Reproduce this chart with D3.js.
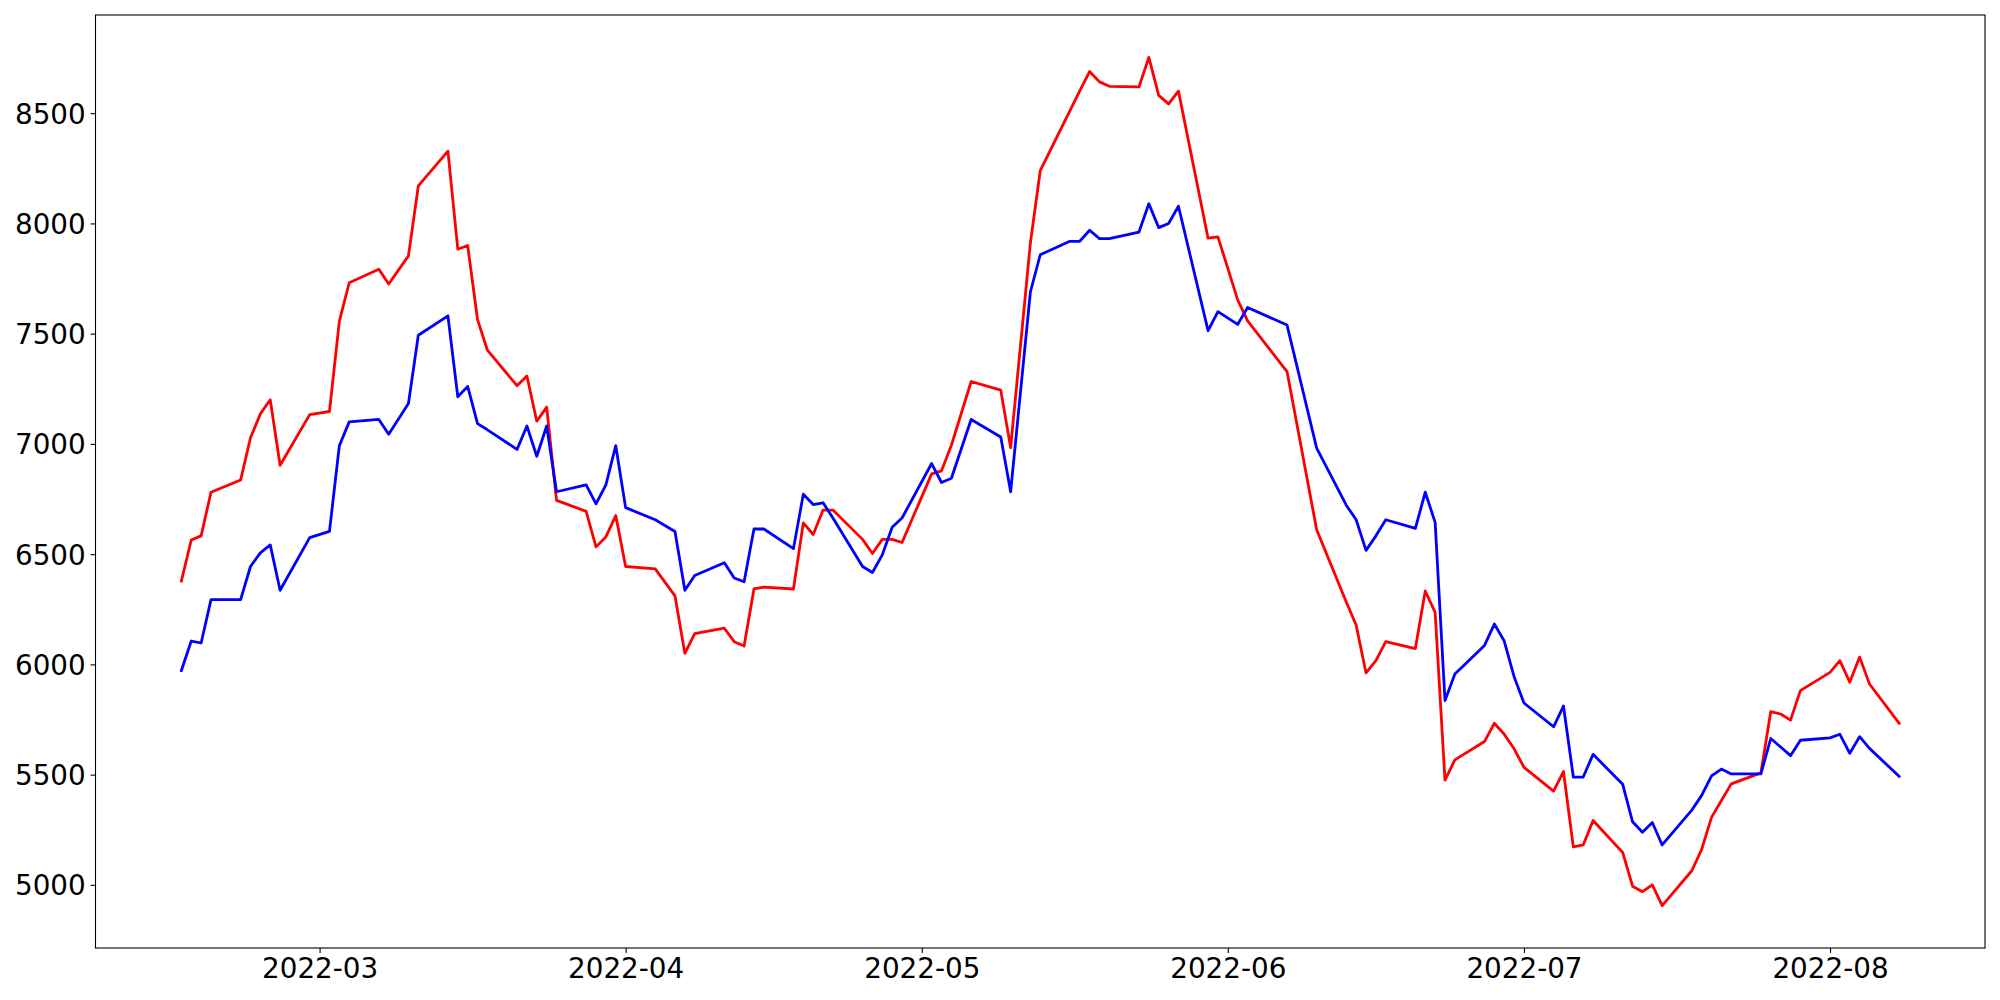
<!DOCTYPE html>
<html>
<head>
<meta charset="utf-8">
<script src="https://cdnjs.cloudflare.com/ajax/libs/d3/7.8.5/d3.min.js"></script>
<style>
  html, body { margin: 0; padding: 0; background: #fff; overflow: hidden; }
  svg { display: block; }
  text { font-family: "DejaVu Sans", sans-serif; }
</style>
</head>
<body>
<div id="chart"></div>
<script>
// Data

// Trading days shown on the x axis
const dates = [
  "2022-02-15", "2022-02-16", "2022-02-17", "2022-02-18", "2022-02-21", "2022-02-22", "2022-02-23", "2022-02-24", "2022-02-25", "2022-02-28",
  "2022-03-02", "2022-03-03", "2022-03-04", "2022-03-07", "2022-03-08", "2022-03-10", "2022-03-11", "2022-03-14", "2022-03-15", "2022-03-16",
  "2022-03-17", "2022-03-18", "2022-03-21", "2022-03-22", "2022-03-23", "2022-03-24", "2022-03-25", "2022-03-28", "2022-03-29", "2022-03-30",
  "2022-03-31", "2022-04-01", "2022-04-04", "2022-04-06", "2022-04-07", "2022-04-08", "2022-04-11", "2022-04-12", "2022-04-13", "2022-04-14",
  "2022-04-15", "2022-04-18", "2022-04-19", "2022-04-20", "2022-04-21", "2022-04-22", "2022-04-25", "2022-04-26", "2022-04-27", "2022-04-28",
  "2022-04-29", "2022-05-02", "2022-05-03", "2022-05-04", "2022-05-06", "2022-05-09", "2022-05-10", "2022-05-12", "2022-05-13", "2022-05-16",
  "2022-05-17", "2022-05-18", "2022-05-19", "2022-05-20", "2022-05-23", "2022-05-24", "2022-05-25", "2022-05-26", "2022-05-27", "2022-05-30",
  "2022-05-31", "2022-06-02", "2022-06-03", "2022-06-07", "2022-06-10", "2022-06-13", "2022-06-14", "2022-06-15", "2022-06-16", "2022-06-17",
  "2022-06-20", "2022-06-21", "2022-06-22", "2022-06-23", "2022-06-24", "2022-06-27", "2022-06-28", "2022-06-29", "2022-06-30", "2022-07-01",
  "2022-07-04", "2022-07-05", "2022-07-06", "2022-07-07", "2022-07-08", "2022-07-11", "2022-07-12", "2022-07-13", "2022-07-14", "2022-07-15",
  "2022-07-18", "2022-07-19", "2022-07-20", "2022-07-21", "2022-07-22", "2022-07-25", "2022-07-26", "2022-07-27", "2022-07-28", "2022-07-29",
  "2022-08-01", "2022-08-02", "2022-08-03", "2022-08-04", "2022-08-05", "2022-08-08"
];

// Red series
const redValues = [
  6378, 6564, 6583, 6781, 6836, 7028, 7136, 7200, 6903, 7133,
  7147, 7556, 7731, 7792, 7725, 7853, 8170, 8328, 7883, 7900,
  7564, 7425, 7264, 7308, 7103, 7167, 6744, 6694, 6533, 6578,
  6675, 6444, 6433, 6311, 6050, 6139, 6164, 6103, 6083, 6342,
  6350, 6342, 6642, 6589, 6700, 6700, 6567, 6503, 6567, 6567,
  6553, 6864, 6878, 6994, 7283, 7244, 6983, 7911, 8239, 8511,
  8601, 8689, 8642, 8622, 8619, 8753, 8581, 8542, 8600, 7933,
  7939, 7653, 7558, 7328, 6611, 6283, 6178, 5961, 6017, 6103,
  6072, 6333, 6236, 5475, 5567, 5650, 5733, 5683, 5617, 5533,
  5425, 5514, 5172, 5181, 5292, 5147, 4994, 4969, 5000, 4906,
  5064, 5161, 5306, 5383, 5458, 5508, 5786, 5775, 5747, 5881,
  5964, 6017, 5919, 6033, 5911, 5733
];

// Blue series
const blueValues = [
  5972, 6106, 6097, 6294, 6294, 6444, 6506, 6542, 6336, 6575,
  6603, 6992, 7100, 7111, 7044, 7183, 7493, 7581, 7214, 7261,
  7092, 7064, 6975, 7081, 6944, 7081, 6783, 6814, 6728, 6814,
  6992, 6711, 6656, 6603, 6336, 6403, 6461, 6392, 6375, 6614,
  6614, 6525, 6772, 6725, 6733, 6664, 6444, 6417, 6497, 6622,
  6664, 6911, 6825, 6844, 7111, 7031, 6783, 7689, 7858, 7919,
  7919, 7969, 7931, 7931, 7961, 8089, 7981, 8000, 8078, 7514,
  7600, 7542, 7619, 7539, 6981, 6722, 6656, 6517, 6583, 6656,
  6617, 6781, 6644, 5836, 5956, 6086, 6183, 6106, 5944, 5825,
  5717, 5811, 5489, 5489, 5592, 5456, 5286, 5239, 5283, 5181,
  5339, 5406, 5494, 5525, 5503, 5503, 5664, 5625, 5586, 5656,
  5667, 5683, 5597, 5672, 5619, 5492
];

// Y tick values
const yTicks = [5000, 5500, 6000, 6500, 7000, 7500, 8000, 8500];


// Chart Setup
const width = 2000;
const height = 1000;
const margin = { top: 15, right: 15, bottom: 52, left: 95.5 };
const innerWidth = width - margin.left - margin.right;
const innerHeight = height - margin.top - margin.bottom;

const svg = d3.select('#chart')
  .append('svg')
  .attr('width', width)
  .attr('height', height);

const g = svg.append('g')
  .attr('transform', `translate(${margin.left},${margin.top})`);

const parseDate = d3.timeParse('%Y-%m-%d');
const series = [
  { color: '#ff0000', values: redValues },
  { color: '#0000ff', values: blueValues }
];
series.forEach(s => {
  s.points = dates.map((d, i) => ({ date: parseDate(d), value: s.values[i] }));
});


// Scales (matplotlib style 5% padding)
const xExtent = d3.extent(dates, d => parseDate(d));
const xPad = (xExtent[1] - xExtent[0]) * 0.05;
const x = d3.scaleTime()
  .domain([new Date(+xExtent[0] - xPad), new Date(+xExtent[1] + xPad)])
  .range([0, innerWidth]);

const allValues = redValues.concat(blueValues);
const yExtent = d3.extent(allValues);
const yPad = (yExtent[1] - yExtent[0]) * 0.05;
const y = d3.scaleLinear()
  .domain([yExtent[0] - yPad, yExtent[1] + yPad])
  .range([innerHeight, 0]);


// Axes
const tickLen = 4.9;
const fontSize = 27.8;

const xAxis = g.append('g')
  .attr('transform', `translate(0,${innerHeight})`)
  .call(d3.axisBottom(x)
    .ticks(d3.timeMonth.every(1))
    .tickFormat(d3.timeFormat('%Y-%m'))
    .tickSize(tickLen)
    .tickPadding(4.9));

const yAxis = g.append('g')
  .call(d3.axisLeft(y)
    .tickValues(yTicks)
    .tickFormat(d3.format('d'))
    .tickSize(tickLen)
    .tickPadding(4.9));

[xAxis, yAxis].forEach(a => {
  a.select('.domain').remove();
  a.selectAll('.tick line').attr('stroke', '#000').attr('stroke-width', 1.1);
  a.selectAll('.tick text')
    .attr('fill', '#000')
    .style('font-size', fontSize + 'px')
    .style('font-family', '"DejaVu Sans", sans-serif');
});
xAxis.selectAll('.tick text').attr('dy', '0.72em');
yAxis.selectAll('.tick text').attr('dy', '0.36em');


// Lines
const line = d3.line()
  .x(d => x(d.date))
  .y(d => y(d.value));

g.append('g')
  .attr('class', 'lines')
  .selectAll('path')
  .data(series)
  .enter().append('path')
  .attr('d', d => line(d.points))
  .attr('fill', 'none')
  .attr('stroke', d => d.color)
  .attr('stroke-width', 2.8)
  .attr('stroke-linejoin', 'round')
  .attr('stroke-linecap', 'square');


// Frame
g.append('rect')
  .attr('width', innerWidth)
  .attr('height', innerHeight)
  .attr('fill', 'none')
  .attr('stroke', '#000')
  .attr('stroke-width', 1.1);
</script>
</body>
</html>
